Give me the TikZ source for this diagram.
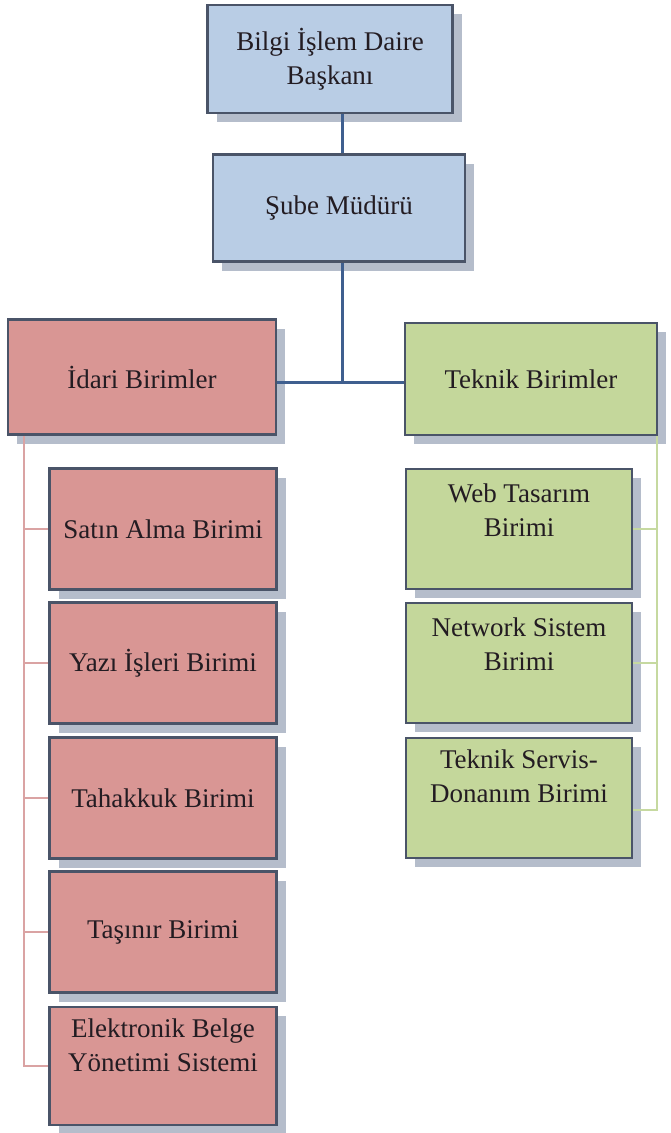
\documentclass[tikz,border=0pt]{standalone}
\usepackage{fontspec}
\setmainfont{Liberation Serif}
\usetikzlibrary{shadows}

\definecolor{bluefill}{HTML}{B9CDE5}
\definecolor{redfill}{HTML}{D99694}
\definecolor{greenfill}{HTML}{C4D79B}
\definecolor{boxline}{HTML}{4A5468}
\definecolor{shadowgray}{HTML}{B5BDCB}
\definecolor{topline}{HTML}{3F5F8F}
\definecolor{redline}{HTML}{DAA3A3}
\definecolor{greenline}{HTML}{C6D9A0}
\definecolor{textdark}{HTML}{231C22}

\tikzset{
  unit/.style={draw=boxline, line width=2.5pt, text=textdark, align=center,
    font=\fontsize{27}{34}\selectfont,
    drop shadow={shadow xshift=9pt, shadow yshift=-9pt, fill=shadowgray, opacity=1}},
  bluebox/.style={unit, fill=bluefill},
  redbox/.style={unit, fill=redfill, minimum width=227pt, minimum height=121pt},
  greenbox/.style={unit, fill=greenfill, minimum width=226pt, minimum height=120pt},
  lbl/.style={text=textdark, align=center, font=\fontsize{27}{34}\selectfont},
}

\begin{document}
\begin{tikzpicture}[x=1pt,y=-1pt]
  \useasboundingbox (0,0) rectangle (670,1133);

  % head and branch boxes
  \node[bluebox, minimum width=245pt, minimum height=108pt] (baskan) at (330,59)
    {Bilgi İşlem Daire\\Başkanı};
  \node[bluebox, minimum width=252pt, minimum height=107pt] (sube) at (339,208)
    {Şube Müdürü};
  \node[unit, fill=redfill, minimum width=268pt, minimum height=115pt] (idari) at (142,377)
    {İdari Birimler};
  \node[unit, fill=greenfill, minimum width=252pt, minimum height=112pt] (teknik) at (531,379)
    {Teknik Birimler};
  \coordinate (stem) at (342,382);

  % idari units
  \node[redbox] (satin)   at (163,529) {Satın Alma Birimi};
  \node[redbox] (yazi)    at (163,663) {Yazı İşleri Birimi};
  \node[redbox] (tahakkuk) at (163,798) {Tahakkuk Birimi};
  \node[redbox] (tasinir) at (163,932) {Taşınır Birimi};
  \node[redbox, minimum height=118pt] (ebys) at (163,1066) {};
  \node[lbl] (ebystxt) at ([yshift=21pt]ebys.center) {Elektronik Belge\\Yönetimi Sistemi};

  % teknik units
  \node[greenbox] (web)     at (519,529) {};
  \node[greenbox] (network) at (519,663) {};
  \node[greenbox] (servis)  at (519,798) {};
  \node[lbl] (webtxt)     at ([yshift=19pt]web.center)     {Web Tasarım\\Birimi};
  \node[lbl] (networktxt) at ([yshift=19pt]network.center) {Network Sistem\\Birimi};
  \node[lbl] (servistxt)  at ([yshift=22pt]servis.center)  {Teknik Servis-\\Donanım Birimi};

  % connectors
  \begin{scope}[draw=topline, line width=3pt]
    \draw (baskan.south -| stem) -- (sube.north -| stem);
    \draw (sube.south -| stem) -- (stem);
    \draw (idari.east |- stem) -- (teknik.west |- stem);
  \end{scope}

  \begin{scope}[draw=redline, line width=2pt]
    \draw (idari.south -| 24,0) |- (ebys.west);
    \foreach \n in {satin,yazi,tahakkuk,tasinir}
      \draw (\n.west -| 24,0) -- (\n.west);
  \end{scope}

  \begin{scope}[draw=greenline, line width=2pt]
    \draw (teknik.south -| 657,0) |- ([yshift=-12pt]servis.east);
    \foreach \n in {web,network}
      \draw (\n.east -| 657,0) -- (\n.east);
  \end{scope}

\end{tikzpicture}
\end{document}
